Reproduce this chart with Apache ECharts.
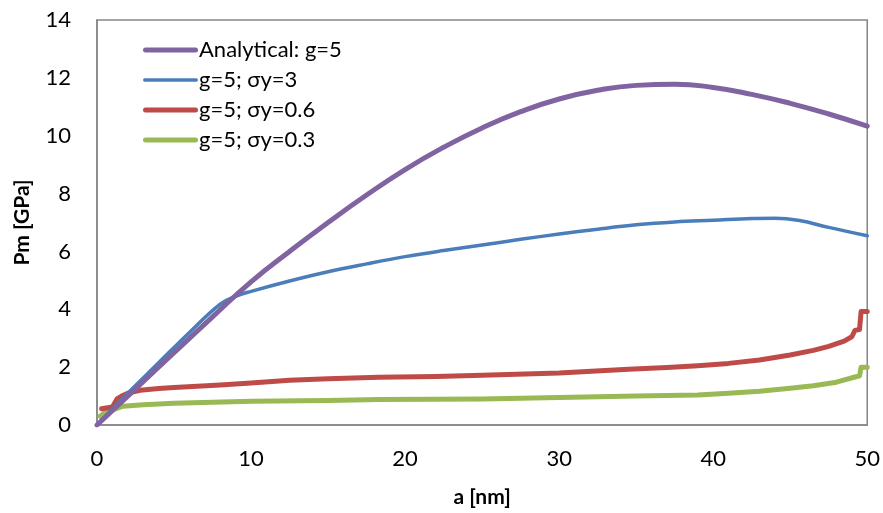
<!DOCTYPE html>
<html><head><meta charset="utf-8">
<script src="https://cdn.jsdelivr.net/npm/echarts@6/dist/echarts.min.js"></script>
<style>html,body{margin:0;padding:0;background:#fff}#c{width:883px;height:513px}</style>
</head><body><div id="c"></div>
<script>
const seriesNames = ['Analytical: g=5', 'g=5; σy=3', 'g=5; σy=0.6', 'g=5; σy=0.3'];
const xTicks = [0, 10, 20, 30, 40, 50];
const yTicks = [0, 2, 4, 6, 8, 10, 12, 14];
const analytical = [[0,0],[2.5,1.25],[5,2.5],[7.5,3.74],[10,4.95],[12.5,6.0],[15,7.0],[17.5,7.95],[20,8.83],[22.5,9.6],[25,10.27],[27.5,10.83],[30,11.27],[32.5,11.57],[35,11.74],[37.5,11.78],[40,11.67],[42.5,11.43],[45,11.12],[47.5,10.75],[50,10.33]];
const sy3 = [[0,0],[2,1.1],[4,2.15],[6,3.2],[8,4.18],[9,4.45],[10,4.62],[12.5,4.98],[15,5.3],[17.5,5.57],[20,5.82],[22.5,6.03],[25,6.22],[27.5,6.42],[30,6.6],[32.5,6.77],[35,6.92],[37.5,7.02],[40,7.08],[42.5,7.14],[44,7.15],[45.6,7.07],[47.5,6.83],[50,6.54]];
const sy06 = [[0.3,0.56],[1.0,0.62],[1.3,0.9],[1.6,1.0],[2.0,1.1],[2.8,1.2],[4,1.26],[5,1.3],[8,1.38],[10,1.45],[12.5,1.55],[15,1.6],[18.3,1.65],[22,1.68],[25,1.72],[30,1.8],[34.5,1.93],[37,1.99],[39,2.05],[41,2.13],[43,2.25],[45,2.42],[46.5,2.58],[47.5,2.72],[48.5,2.9],[49.0,3.05],[49.2,3.27],[49.5,3.3],[49.6,3.92],[50,3.92]];
const sy03 = [[0.2,0.3],[0.5,0.42],[1,0.52],[1.7,0.65],[3,0.7],[5,0.75],[7.5,0.79],[10,0.82],[15,0.85],[18.3,0.88],[25,0.9],[30,0.95],[35,1.0],[39,1.04],[41,1.1],[43,1.17],[45,1.27],[46.5,1.36],[48,1.48],[49.2,1.66],[49.5,1.7],[49.6,2.0],[50,2.0]];

const colors = ['#8064A2', '#4A7EBB', '#BE4B48', '#98B954'];
const widths = [5, 3.5, 5, 5];
const smooths = [0.5, 0.4, false, false];
const datas = [analytical, sy3, sy06, sy03];
const icons = [
  'path://M2.5,0 H52.5 A2.5,2.5 0 0 1 52.5,5 H2.5 A2.5,2.5 0 0 1 2.5,0 Z',
  'path://M1.75,0 H53.25 A1.75,1.75 0 0 1 53.25,3.5 H1.75 A1.75,1.75 0 0 1 1.75,0 Z',
  'path://M2.5,0 H52.5 A2.5,2.5 0 0 1 52.5,5 H2.5 A2.5,2.5 0 0 1 2.5,0 Z',
  'path://M2.5,0 H52.5 A2.5,2.5 0 0 1 52.5,5 H2.5 A2.5,2.5 0 0 1 2.5,0 Z'
];
const font = 'Lato, "Open Sans", sans-serif';

const chart = echarts.init(document.getElementById('c'));
chart.setOption({
  animation: false,
  backgroundColor: '#fff',
  grid: { left: 97, right: 13, top: 20, bottom: 86, show: true, borderColor: '#868686', borderWidth: 1.5 },
  legend: {
    orient: 'vertical', left: 138, top: 34, itemWidth: 55, itemHeight: 14, itemGap: 8,
    textStyle: { fontFamily: font, fontSize: 22, color: '#000', padding: [0,0,0,-4] },
    data: seriesNames.map((n, i) => ({ name: n, icon: icons[i], itemStyle: { color: colors[i] } }))
  },
  xAxis: {
    type: 'value', min: 0, max: 50, interval: 10,
    name: 'a [nm]', nameLocation: 'middle', nameGap: 62,
    nameTextStyle: { fontFamily: font, fontSize: 21, fontWeight: 'bold', color: '#000' },
    axisLine: { show: true, lineStyle: { color: '#868686', width: 1.5 } },
    axisTick: { show: false }, splitLine: { show: false },
    axisLabel: { fontFamily: font, fontSize: 22, color: '#000', margin: 23,
      formatter: v => xTicks.includes(v) ? String(v) : '' }
  },
  yAxis: {
    type: 'value', min: 0, max: 14, interval: 2,
    name: 'Pm [GPa]', nameLocation: 'middle', nameGap: 64,
    nameTextStyle: { fontFamily: font, fontSize: 21, fontWeight: 'bold', color: '#000' },
    axisLine: { show: true, lineStyle: { color: '#868686', width: 1.5 } },
    axisTick: { show: false }, splitLine: { show: false },
    axisLabel: { fontFamily: font, fontSize: 22, color: '#000', margin: 26,
      formatter: v => yTicks.includes(v) ? String(v) : '' }
  },
  series: seriesNames.map((n, i) => ({
    name: n, type: 'line', data: datas[i], symbol: 'none', showSymbol: false,
    smooth: smooths[i], clip: true,
    lineStyle: { color: colors[i], width: widths[i], cap: 'round', join: 'round' },
    itemStyle: { color: colors[i] },
    z: 10 - i
  }))
});
</script></body></html>
